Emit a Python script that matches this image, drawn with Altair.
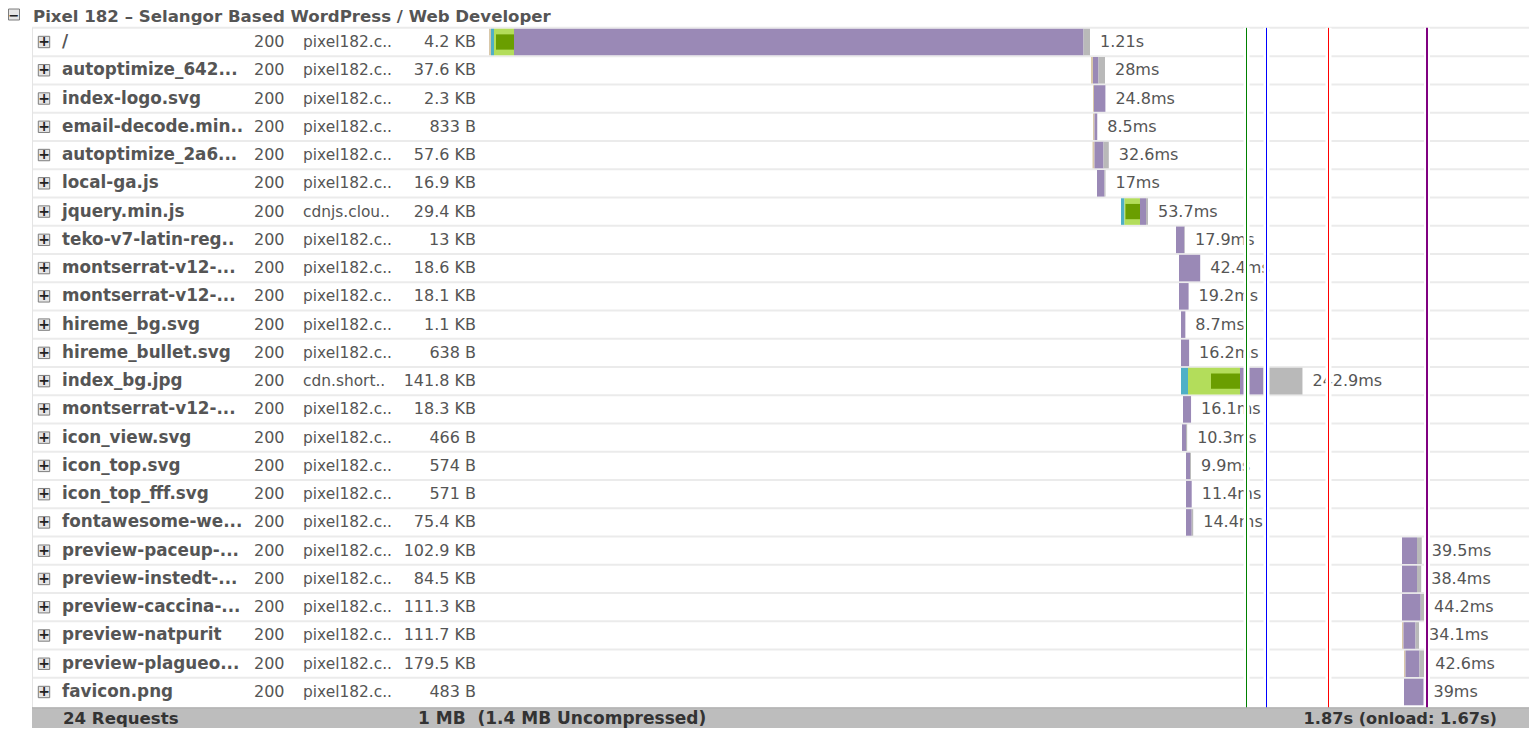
import altair as alt
import pandas as pd

# ---------------- data ----------------
names = ["/", "autoptimize_642...", "index-logo.svg", "email-decode.min..", "autoptimize_2a6...",
         "local-ga.js", "jquery.min.js", "teko-v7-latin-reg..", "montserrat-v12-...", "montserrat-v12-...",
         "hireme_bg.svg", "hireme_bullet.svg", "index_bg.jpg", "montserrat-v12-...", "icon_view.svg",
         "icon_top.svg", "icon_top_fff.svg", "fontawesome-we...", "preview-paceup-...", "preview-instedt-...",
         "preview-caccina-...", "preview-natpurit", "preview-plagueo...", "favicon.png"]
statuses = ["200"] * 24
domains = ["pixel182.c..", "pixel182.c..", "pixel182.c..", "pixel182.c..", "pixel182.c..",
           "pixel182.c..", "cdnjs.clou..", "pixel182.c..", "pixel182.c..", "pixel182.c..",
           "pixel182.c..", "pixel182.c..", "cdn.short..", "pixel182.c..", "pixel182.c..",
           "pixel182.c..", "pixel182.c..", "pixel182.c..", "pixel182.c..", "pixel182.c..",
           "pixel182.c..", "pixel182.c..", "pixel182.c..", "pixel182.c.."]
sizes = ["4.2 KB", "37.6 KB", "2.3 KB", "833 B", "57.6 KB", "16.9 KB", "29.4 KB", "13 KB", "18.6 KB",
         "18.1 KB", "1.1 KB", "638 B", "141.8 KB", "18.3 KB", "466 B", "574 B", "571 B", "75.4 KB",
         "102.9 KB", "84.5 KB", "111.3 KB", "111.7 KB", "179.5 KB", "483 B"]
durations = ["1.21s", "28ms", "24.8ms", "8.5ms", "32.6ms", "17ms", "53.7ms", "17.9ms", "42.4ms",
             "19.2ms", "8.7ms", "16.2ms", "242.9ms", "16.1ms", "10.3ms", "9.9ms", "11.4ms", "14.4ms",
             "39.5ms", "38.4ms", "44.2ms", "34.1ms", "42.6ms", "39ms"]

# timings in ms
start_ms = [0, 1204, 1208, 1208, 1207, 1216, 1264, 1374, 1380, 1380, 1384, 1384, 1384, 1388, 1386,
            1394, 1394, 1394, 1826, 1826, 1826, 1826, 1830, 1830]
blocked_ms = [4, 4, 2, 3, 4, 0, 0, 0, 0, 0, 0, 0, 0, 0, 0, 0, 0, 0, 0, 0, 0, 3, 3, 0]
dns_ms = [6, 0, 0, 0, 0, 0, 7, 0, 0, 0, 0, 0, 14, 0, 0, 0, 0, 0, 0, 0, 0, 0, 0, 0]
connect_ms = [40, 0, 0, 0, 0, 0, 31, 0, 0, 0, 0, 0, 104, 0, 0, 0, 0, 0, 0, 0, 0, 0, 0, 0]
ssl_ms = [36, 0, 0, 0, 0, 0, 29, 0, 0, 0, 0, 0, 58, 0, 0, 0, 0, 0, 0, 0, 0, 0, 0, 0]
wait_ms = [1139, 11, 22.8, 5.5, 18, 15, 12, 16.9, 42.4, 19.2, 8.7, 16.2, 46.6, 16.1, 8, 8, 11.4, 11.4,
           30, 30, 37.4, 24, 28, 39]
receive_ms = [13, 13, 0, 0, 10.6, 2, 4, 1, 0, 0, 0, 0, 78.3, 0, 2.3, 1.9, 0, 3, 9.5, 8.4, 6.8, 7.1,
              11.6, 0]

marker_names = ["first paint", "DOM loaded", "onload", "fully loaded"]
marker_ms = [1515, 1555, 1679, 1876]
marker_colors = ["#008000", "#0000ff", "#ff0000", "#800080"]
marker_widths = [1, 1, 1, 2]

title_text = "Pixel 182 – Selangor Based WordPress / Web Developer"
footer_requests = "24 Requests"
footer_size = "1 MB\u00a0 (1.4 MB Uncompressed)"
footer_time = "1.87s (onload: 1.67s)"

phases = ["blocked", "dns", "connect", "ssl", "wait", "receive"]
phase_colors = ["#d9c8aa", "#4fb0c6", "#b3dd5b", "#6a9e00", "#9a89b6", "#b9b9b9"]

# ---------------- tables ----------------
n = len(names)
segs = []
ends = []
for i in range(n):
    t = start_ms[i]
    if blocked_ms[i]:
        segs.append(dict(row=i, phase="blocked", t0=t, t1=t + blocked_ms[i], h=0.47))
        t += blocked_ms[i]
    if dns_ms[i]:
        segs.append(dict(row=i, phase="dns", t0=t, t1=t + dns_ms[i], h=0.47))
        t += dns_ms[i]
    if connect_ms[i]:
        segs.append(dict(row=i, phase="connect", t0=t, t1=t + connect_ms[i], h=0.47))
        t += connect_ms[i]
        if ssl_ms[i]:
            segs.append(dict(row=i, phase="ssl", t0=t - ssl_ms[i], t1=t, h=0.27))
    if wait_ms[i]:
        segs.append(dict(row=i, phase="wait", t0=t, t1=t + wait_ms[i], h=0.47))
        t += wait_ms[i]
    if receive_ms[i]:
        segs.append(dict(row=i, phase="receive", t0=t, t1=t + receive_ms[i], h=0.47))
        t += receive_ms[i]
    ends.append(t)
segs = pd.DataFrame(segs)
segs["y0"] = segs["row"] - segs["h"]
segs["y1"] = segs["row"] + segs["h"]

rows = pd.DataFrame({"row": list(range(n)), "name": names, "status": statuses, "domain": domains,
                     "size": sizes, "dur": durations, "end": ends, "icon": ["+"] * n})
seps = pd.DataFrame({"y": [i - 0.5 for i in range(n)]})
markers = pd.DataFrame({"m": marker_names, "t": marker_ms, "w": marker_widths, "c": marker_colors,
                        "y0": [-0.5] * 4, "y1": [23.56] * 4})
head = pd.DataFrame({"row": [-1], "text": [title_text], "icon": ["−"]})
foot = pd.DataFrame({"row": [24], "a": [footer_requests], "b": [footer_size], "c": [footer_time],
                     "y0": [23.56], "y1": [24.4]})

FONT = "DejaVu Sans"
YS = alt.Scale(domain=[0, 23], range=[34, 684], nice=False, zero=False)
XS = alt.Scale(domain=[0, 2090], range=[481, 1526], nice=False, zero=False)

sep_layer = alt.Chart(seps).mark_rule(color="#ebebeb", strokeWidth=2).encode(
    y=alt.Y("y:Q", scale=YS, axis=None), x=alt.value(24), x2=alt.value(1521))
left_border = alt.Chart(markers.head(1)).mark_rule(color="#e4e4e4", strokeWidth=1).encode(
    y=alt.Y("y0:Q", scale=YS, axis=None), y2="y1:Q", x=alt.value(24.5))

bars = alt.Chart(segs).mark_rect().encode(
    x=alt.X("t0:Q", scale=XS, axis=None), x2="t1:Q",
    y=alt.Y("y0:Q", scale=YS, axis=None), y2="y1:Q",
    color=alt.Color("phase:N", scale=alt.Scale(domain=phases, range=phase_colors), legend=None))

dur_labels = alt.Chart(rows).mark_text(align="left", baseline="middle", dx=10, font=FONT,
                                        fontSize=16, color="#555555").encode(
    x=alt.X("end:Q", scale=XS, axis=None), y=alt.Y("row:Q", scale=YS, axis=None), text="dur:N")

bands = alt.Chart(markers).mark_rule(color="white", strokeWidth=6).encode(
    x=alt.X("t:Q", scale=XS, axis=None), y=alt.Y("y0:Q", scale=YS, axis=None), y2="y1:Q")

line_layers = []
for nm, col, w in zip(marker_names, marker_colors, marker_widths):
    line_layers.append(
        alt.Chart(markers).transform_filter(alt.datum.m == nm)
        .mark_rule(color=col, strokeWidth=w).encode(
            x=alt.X("t:Q", scale=XS, axis=None), y=alt.Y("y0:Q", scale=YS, axis=None), y2="y1:Q"))


def col_text(field, xpos, align="left", bold=False, size=16, color="#555555"):
    return alt.Chart(rows).mark_text(align=align, baseline="middle", font=FONT, fontSize=size,
                                     fontWeight="bold" if bold else "normal", color=color).encode(
        x=alt.value(xpos), y=alt.Y("row:Q", scale=YS, axis=None), text=f"{field}:N")


name_col = col_text("name", 54, bold=True, size=16.8)
status_col = col_text("status", 246)
domain_col = col_text("domain", 295, size=15.4)
size_col = col_text("size", 468, align="right")

icons = alt.Chart(rows).mark_square(size=130, fill="#e6e6e6", stroke="#7d7d7d", strokeWidth=1,
                                    opacity=1).encode(
    x=alt.value(36), y=alt.Y("row:Q", scale=YS, axis=None))
icon_plus = alt.Chart(rows).mark_text(font=FONT, fontSize=14, fontWeight="bold", color="#222222",
                                      baseline="middle", align="center").encode(
    x=alt.value(36), y=alt.Y("row:Q", scale=YS, axis=None), text="icon:N")

head_icon = alt.Chart(head).mark_square(size=121, fill="#e6e6e6", stroke="#7d7d7d", strokeWidth=1,
                                        opacity=1).encode(
    x=alt.value(6), y=alt.value(6.5))
head_minus = alt.Chart(head).mark_text(font=FONT, fontSize=13, fontWeight="bold", color="#222222",
                                       baseline="top", align="center").encode(
    x=alt.value(6), y=alt.value(1.5), text="icon:N")
head_text = alt.Chart(head).mark_text(font=FONT, fontSize=16.6, fontWeight="bold", color="#555555",
                                      baseline="top", align="left").encode(
    x=alt.value(25), y=alt.value(1), text="text:N")

foot_bg = alt.Chart(foot).mark_rect(color="#bdbdbd").encode(
    x=alt.value(24), x2=alt.value(1521), y=alt.Y("y0:Q", scale=YS, axis=None), y2="y1:Q")
foot_top = alt.Chart(foot).mark_rule(color="#a8a8a8", strokeWidth=1).encode(
    x=alt.value(24), x2=alt.value(1521), y=alt.Y("y0:Q", scale=YS, axis=None))


def foot_text(field, xpos, align="left", size=16.6):
    return alt.Chart(foot).mark_text(font=FONT, fontSize=size, fontWeight="bold", color="#333333",
                                     baseline="middle", align=align, dy=-1).encode(
        x=alt.value(xpos), y=alt.Y("row:Q", scale=YS, axis=None), text=f"{field}:N")


chart = alt.layer(
    sep_layer, left_border, bars, dur_labels, bands, *line_layers,
    name_col, status_col, domain_col, size_col, icons, icon_plus,
    head_icon, head_minus, head_text,
    foot_bg, foot_top, foot_text("a", 55), foot_text("b", 410, size=17), foot_text("c", 1489, "right", 16.2),
).properties(
    width=1521, height=720, padding=0, autosize=alt.AutoSizeParams(type="none"),
    background="white"
).configure_view(stroke=None)

chart.save("out.html", embed_options={"renderer": "svg", "actions": False})
